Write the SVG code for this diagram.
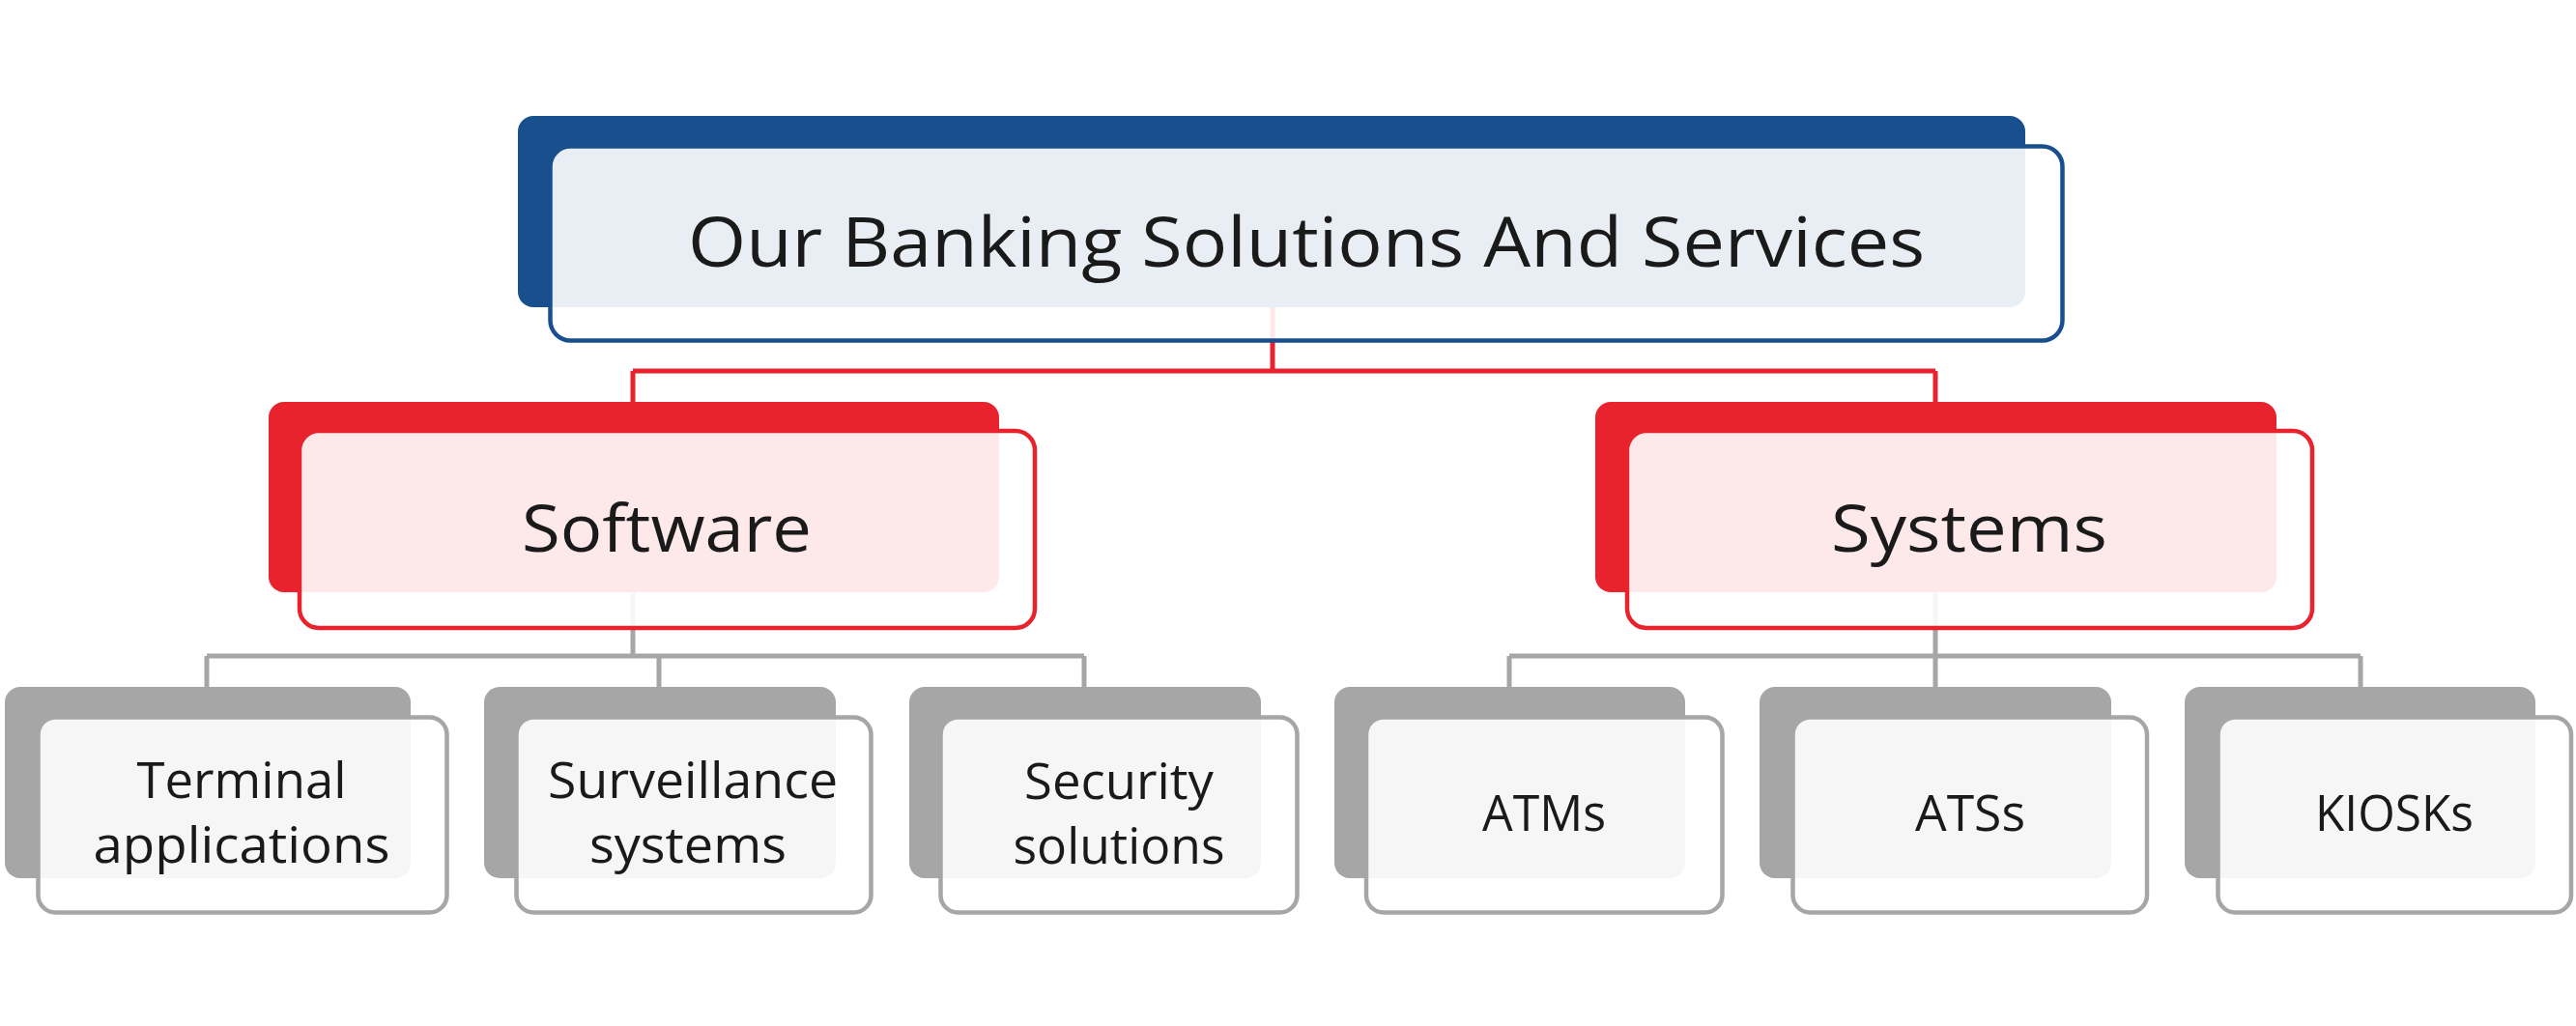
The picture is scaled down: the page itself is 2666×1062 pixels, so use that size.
<svg xmlns="http://www.w3.org/2000/svg" width="2666" height="1062" viewBox="0 0 2666 1062">
<style>
.bg{fill:#ffffff}
.red{stroke:#E8232E;stroke-width:5;fill:none}
.gray{stroke:#A6A6A6;stroke-width:5;fill:none}
.bk-blue{fill:#18508D}
.bk-red{fill:#E8232E}
.bk-gray{fill:#A6A6A6}
.fr{fill:#ffffff;fill-opacity:0.9;stroke-width:4.5}
.fr-blue{stroke:#1A4F8D}
.fr-red{stroke:#E8232E}
.fr-gray{stroke:#A6A6A6}
text{font-family:"Open Sans","Noto Sans","Liberation Sans",sans-serif;fill:#1A1A1A;text-anchor:middle}
.t1{font-size:72px}
.t2{font-size:67px}
.t3{font-size:51px}
</style>
<rect class="bg" x="0" y="0" width="2666" height="1062"/>
<g id="connectors">
  <path class="red" d="M1317 200 V384 M655 384 H2003 M655 384 V420 M2003 384 V420"/>
  <path class="gray" d="M655 560 V679 M214 679 H1122 M214 679 V714 M682 679 V714 M1122 679 V714"/>
  <path class="gray" d="M2003 560 V679 M1562 679 H2443 M1562 679 V714 M2003 679 V714 M2443 679 V714"/>
</g>
<g id="node-root">
  <rect class="bk-blue" x="536" y="120" width="1560" height="198" rx="16"/>
  <rect class="fr fr-blue" x="569.5" y="151.5" width="1565" height="201" rx="21"/>
  <text class="t1" x="1352" y="276" textLength="1280" lengthAdjust="spacingAndGlyphs">Our Banking Solutions And Services</text>
</g>
<g id="node-software">
  <rect class="bk-red" x="278" y="416" width="756" height="197" rx="16"/>
  <rect class="fr fr-red" x="310" y="446" width="761" height="204" rx="20"/>
  <text class="t2" x="690" y="571" textLength="300" lengthAdjust="spacingAndGlyphs">Software</text>
</g>
<g id="node-systems">
  <rect class="bk-red" x="1651" y="416" width="705" height="197" rx="16"/>
  <rect class="fr fr-red" x="1684" y="446" width="709" height="204" rx="20"/>
  <text class="t2" x="2038" y="571" textLength="286" lengthAdjust="spacingAndGlyphs">Systems</text>
</g>
<g id="node-terminal">
  <rect class="bk-gray" x="5" y="711" width="420" height="198" rx="16"/>
  <rect class="fr fr-gray" x="39.5" y="742.5" width="423" height="202" rx="18"/>
  <text class="t3" x="250" y="826" textLength="217" lengthAdjust="spacingAndGlyphs">Terminal</text>
  <text class="t3" x="250" y="893" textLength="307" lengthAdjust="spacingAndGlyphs">applications</text>
</g>
<g id="node-surveillance">
  <rect class="bk-gray" x="501" y="711" width="364" height="198" rx="16"/>
  <rect class="fr fr-gray" x="534.5" y="742.5" width="367" height="202" rx="18"/>
  <text class="t3" x="717" y="826" textLength="300" lengthAdjust="spacingAndGlyphs">Surveillance</text>
  <text class="t3" x="712" y="893" textLength="204" lengthAdjust="spacingAndGlyphs">systems</text>
</g>
<g id="node-security">
  <rect class="bk-gray" x="941" y="711" width="364" height="198" rx="16"/>
  <rect class="fr fr-gray" x="973.5" y="742.5" width="369" height="202" rx="18"/>
  <text class="t3" x="1158" y="827" textLength="196" lengthAdjust="spacingAndGlyphs">Security</text>
  <text class="t3" x="1158" y="894" textLength="219" lengthAdjust="spacingAndGlyphs">solutions</text>
</g>
<g id="node-atms">
  <rect class="bk-gray" x="1381" y="711" width="363" height="198" rx="16"/>
  <rect class="fr fr-gray" x="1414" y="742.5" width="368.5" height="202" rx="18"/>
  <text class="t3" x="1598" y="860" textLength="128" lengthAdjust="spacingAndGlyphs">ATMs</text>
</g>
<g id="node-atss">
  <rect class="bk-gray" x="1821" y="711" width="364" height="198" rx="16"/>
  <rect class="fr fr-gray" x="1855.5" y="742.5" width="366.5" height="202" rx="18"/>
  <text class="t3" x="2039" y="860" textLength="114" lengthAdjust="spacingAndGlyphs">ATSs</text>
</g>
<g id="node-kiosks">
  <rect class="bk-gray" x="2261" y="711" width="363" height="198" rx="16"/>
  <rect class="fr fr-gray" x="2295.5" y="742.5" width="365.5" height="202" rx="18"/>
  <text class="t3" x="2478" y="860" textLength="164" lengthAdjust="spacingAndGlyphs">KIOSKs</text>
</g>
</svg>
